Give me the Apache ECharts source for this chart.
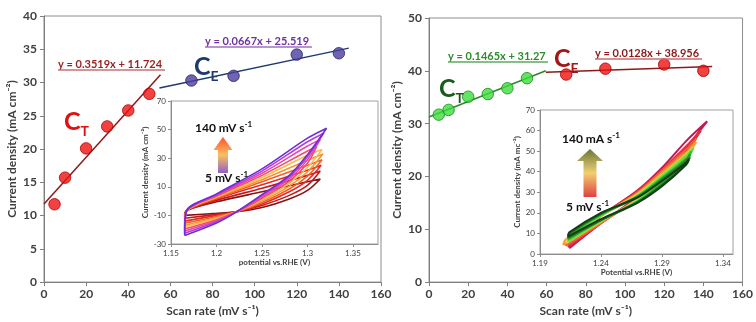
<!DOCTYPE html>
<html>
<head>
<meta charset="utf-8">
<script src="https://cdn.jsdelivr.net/npm/echarts@6/dist/echarts.min.js"></script>
<style>
  html, body { margin: 0; padding: 0; background: #fff; }
  #chart { width: 756px; height: 322px; }
</style>
</head>
<body>
<div id="chart"></div>
<script>
// --- main panels: scan rate vs current density ---
var ctRates = [5, 10, 20, 30, 40, 50];
var ceRates = [70, 90, 120, 140];
var leftCt = [11.7, 15.7, 20.1, 23.4, 25.8, 28.3];
var leftCe = [30.3, 31.0, 34.2, 34.4];
var rightCt = [31.7, 32.6, 35.1, 35.6, 36.7, 38.6];
var rightCe = [39.3, 40.4, 41.2, 40.0];

// trendlines: [slope, intercept], drawn over [xFrom, xTo]
var leftCtFit = [0.3519, 11.724], leftCtSpan = [0, 55.3];
var leftCeFit = [0.0667, 25.519], leftCeSpan = [54.8, 144.7];
var rightCtFit = [0.1465, 31.27], rightCtSpan = [0, 59.6];
var rightCeFit = [0.0128, 38.956], rightCeSpan = [59.6, 144.5];

// --- insets: CV loops, one per scan rate (5 ... 140 mV/s) ---
var leftLoopColors = ['#8b1212', '#c41a1a', '#e62a26', '#f0602c', '#f5962e', '#f8bc4c', '#f04c6c', '#e84aa8', '#b63cdc', '#6e2ed4'];
var leftLoops = [
  [[1.165,-10],[1.2,-8.6],[1.222,-7.5],[1.25,-4.5],[1.28,1.5],[1.3,7.5],[1.314,15.5],[1.3,13.5],[1.25,6.5],[1.2,-0.5],[1.167,-6.5],[1.165,-10]],
  [[1.165,-12],[1.2,-9.3],[1.222,-7.5],[1.25,-3],[1.28,4],[1.3,11],[1.314,21],[1.3,18],[1.25,9],[1.2,0.5],[1.167,-6.8],[1.165,-12]],
  [[1.165,-14],[1.2,-10],[1.222,-7.5],[1.25,-2],[1.28,6.5],[1.3,14.5],[1.315,25],[1.3,21.5],[1.25,11.5],[1.2,1.5],[1.167,-7],[1.165,-14]],
  [[1.165,-15.5],[1.2,-10.8],[1.222,-7.5],[1.25,-1],[1.28,8.5],[1.3,17.5],[1.316,29],[1.3,25],[1.25,13.5],[1.2,2],[1.167,-7],[1.165,-15.5]],
  [[1.165,-17],[1.2,-11.5],[1.222,-7.5],[1.25,0],[1.28,10.5],[1.3,20.5],[1.317,33],[1.3,28.5],[1.25,15],[1.2,2.5],[1.167,-7],[1.165,-17]],
  [[1.165,-18],[1.2,-12.2],[1.222,-7.5],[1.25,1],[1.28,12.5],[1.3,23.5],[1.316,36],[1.3,32],[1.25,16.5],[1.2,3],[1.167,-7],[1.165,-18]],
  [[1.165,-19.5],[1.2,-13],[1.222,-7.5],[1.25,2],[1.28,14],[1.3,26.5],[1.31,38],[1.3,35],[1.25,18],[1.2,3.5],[1.167,-7],[1.165,-19.5]],
  [[1.165,-21],[1.2,-13.8],[1.222,-7.5],[1.25,3],[1.28,15.5],[1.3,29],[1.314,43],[1.3,38.5],[1.25,19.5],[1.2,4],[1.167,-7],[1.165,-21]],
  [[1.165,-22.5],[1.2,-14.5],[1.222,-7.5],[1.25,4],[1.28,17],[1.3,31],[1.318,47.5],[1.3,41.5],[1.25,21],[1.2,4.5],[1.167,-7],[1.165,-22.5]],
  [[1.165,-24],[1.2,-15.3],[1.222,-7.5],[1.25,4.5],[1.28,18],[1.3,32.5],[1.321,51],[1.3,44],[1.25,22.5],[1.2,5],[1.167,-6.8],[1.165,-24]]
];

var rightLoopColors = ['#c2185b', '#e2303e', '#f06040', '#f5a020', '#f2d060', '#66e040', '#34c034', '#1f9a2a', '#2a6a2a', '#143d14'];
var rightLoops = [
  [[1.214,2.8],[1.24,15],[1.27,28],[1.29,39.5],[1.31,52],[1.327,64.5],[1.31,55],[1.29,42],[1.27,31],[1.24,18.5],[1.216,5.5],[1.214,2.8]],
  [[1.213,3.5],[1.24,15],[1.27,27.5],[1.29,38.5],[1.31,50],[1.322,60],[1.31,52.5],[1.29,41],[1.27,30.5],[1.24,18.5],[1.215,6],[1.213,3.5]],
  [[1.211,4],[1.24,15],[1.27,27],[1.29,37.5],[1.31,49],[1.318,56],[1.31,51],[1.29,40.5],[1.27,30],[1.24,18.5],[1.213,6.5],[1.211,4]],
  [[1.209,4.4],[1.24,15.5],[1.27,26.5],[1.29,36.5],[1.31,47.5],[1.318,54.5],[1.31,49.5],[1.29,39.5],[1.27,29.5],[1.24,18.5],[1.211,7],[1.209,4.4]],
  [[1.212,5.5],[1.24,16],[1.27,26.5],[1.29,36],[1.31,46.5],[1.316,52],[1.31,48.5],[1.29,38.5],[1.27,29],[1.24,18.5],[1.213,7.5],[1.212,5.5]],
  [[1.213,6],[1.24,16],[1.27,26],[1.29,35.5],[1.31,46],[1.316,51.5],[1.31,48],[1.29,38],[1.27,28.5],[1.24,18.5],[1.214,8],[1.213,6]],
  [[1.213,7],[1.24,16.5],[1.27,25.5],[1.29,34.5],[1.31,45],[1.314,50],[1.31,46.5],[1.29,37],[1.27,28],[1.24,19],[1.214,9],[1.213,7]],
  [[1.213,7.5],[1.24,16.5],[1.27,25.5],[1.29,34],[1.31,44.5],[1.313,48.5],[1.31,46],[1.29,36.5],[1.27,28],[1.24,19.5],[1.214,9.5],[1.213,7.5]],
  [[1.213,8],[1.24,16.5],[1.27,25],[1.29,33.5],[1.31,44],[1.313,47],[1.31,45],[1.29,36],[1.27,27.5],[1.24,19.5],[1.214,10],[1.213,8]],
  [[1.213,8.5],[1.24,17],[1.27,25],[1.29,33],[1.31,43.5],[1.312,46],[1.31,44.5],[1.29,35.5],[1.27,27.5],[1.24,20],[1.214,10.5],[1.213,8.5]]
];

var font = 'Lato, "Open Sans", sans-serif';
var tickColor = '#404040';

function pairs(xs, ys) {
  return xs.map(function(x, i) { return [x, ys[i]]; });
}
function fitLine(fit, span) {
  return span.map(function(x) { return [x, fit[0] * x + fit[1]]; });
}

function mainX(idx) {
  return {
    gridIndex: idx, type: 'value', min: 0, max: 160, interval: 20,
    name: 'Scan rate (mV s\u207B\u00B9)', nameLocation: 'middle', nameGap: 22,
    nameTextStyle: { color: '#404040', fontSize: 12, fontWeight: 'bold', fontFamily: font },
    axisLine: { onZero: false, lineStyle: { color: '#7f7f7f', width: 1 } },
    axisTick: { show: true, inside: false, length: 4, lineStyle: { color: '#7f7f7f' } },
    axisLabel: { color: tickColor, fontSize: 12, fontWeight: 'bold', fontFamily: font, margin: 6 },
    splitLine: { show: false }
  };
}
function mainY(idx, max, interval) {
  return {
    gridIndex: idx, type: 'value', min: 0, max: max, interval: interval,
    name: 'Current density (mA cm\u207B\u00B2)', nameLocation: 'middle', nameGap: 26,
    nameTextStyle: { color: '#404040', fontSize: 12, fontWeight: 'bold', fontFamily: font },
    axisLine: { show: true, onZero: false, lineStyle: { color: '#7f7f7f', width: 1 } },
    axisTick: { show: true, length: 4, lineStyle: { color: '#7f7f7f' } },
    axisLabel: { color: tickColor, fontSize: 12, fontWeight: 'bold', fontFamily: font, margin: 7 },
    splitLine: { show: false }
  };
}
function insetX(idx, min, max, name, gap) {
  return {
    gridIndex: idx, type: 'value', min: min, max: max, interval: 0.05,
    name: name, nameLocation: 'middle', nameGap: gap,
    nameTextStyle: { color: '#404040', fontSize: 8, fontWeight: 'bold', fontFamily: font },
    axisLine: { onZero: false, lineStyle: { color: '#8c8c8c' } },
    axisTick: { show: true, length: 3, lineStyle: { color: '#8c8c8c' } },
    axisLabel: {
      color: tickColor, fontSize: 8, fontFamily: font, margin: 5, showMaxLabel: false,
      formatter: function(v) { return idx === 2 ? String(+v.toFixed(2)) : v.toFixed(2); }
    },
    splitLine: { show: false }
  };
}
function insetY(idx, min, max, interval, name, gap) {
  return {
    gridIndex: idx, type: 'value', min: min, max: max, interval: interval,
    name: name, nameLocation: 'middle', nameGap: gap,
    nameTextStyle: { color: '#404040', fontSize: 8, fontWeight: 'bold', fontFamily: font },
    axisLine: { show: true, onZero: false, lineStyle: { color: '#8c8c8c' } },
    axisTick: { show: true, length: 3, lineStyle: { color: '#8c8c8c' } },
    axisLabel: { color: tickColor, fontSize: 8, fontFamily: font, margin: 5 },
    splitLine: { show: false }
  };
}

function scatter(idx, data, fill, border) {
  return {
    type: 'scatter', xAxisIndex: idx, yAxisIndex: idx, data: data,
    symbolSize: 11.5, z: 5,
    itemStyle: { color: fill, borderColor: border, borderWidth: 1 }
  };
}
function line(idx, data, color, width, smooth) {
  return {
    type: 'line', xAxisIndex: idx, yAxisIndex: idx, data: data,
    showSymbol: false, smooth: smooth || false, z: 3,
    lineStyle: { color: color, width: width }
  };
}

var series = [
  line(0, fitLine(leftCtFit, leftCtSpan), '#8b1a1a', 1.5),
  line(0, fitLine(leftCeFit, leftCeSpan), '#1f3a6e', 1.5),
  scatter(0, pairs(ctRates, leftCt), '#ee1111', '#b00000'),
  scatter(0, pairs(ceRates, leftCe), '#4b3d9e', '#2a2366'),
  line(1, fitLine(rightCtFit, rightCtSpan), '#2a8a2a', 1.5),
  line(1, fitLine(rightCeFit, rightCeSpan), '#8b1a1a', 1.5),
  scatter(1, pairs(ctRates, rightCt), '#3ddc3d', '#1a8a1a'),
  scatter(1, pairs(ceRates, rightCe), '#ee1111', '#a00000')
];
leftLoops.forEach(function(loop, i) {
  series.push(line(2, loop, leftLoopColors[i], 1.6, 0.3));
});
rightLoops.forEach(function(loop, i) {
  series.push(line(3, loop, rightLoopColors[i], 2, 0.3));
});

// text overlays
function eqText(x, y, text, color, lineColor, w) {
  return [
    { type: 'text', z: 100, style: { x: x, y: y, text: text, fill: color, font: 'bold 11px ' + font, textVerticalAlign: 'middle' } },
    { type: 'line', z: 100, shape: { x1: x, y1: y + 6, x2: x + w, y2: y + 6 }, style: { stroke: lineColor, lineWidth: 1.5 } }
  ];
}
function capText(x, y, sub, color) {
  return {
    type: 'text', z: 100,
    style: {
      x: x, y: y, text: '{c|C}{s|' + sub + '}', fill: color,
      rich: {
        c: { fontSize: 25, fontFamily: font, fontWeight: 'bold', fill: color, verticalAlign: 'bottom' },
        s: { fontSize: 14, fontFamily: font, fontWeight: 'bold', fill: color, verticalAlign: 'bottom', padding: [0, 0, -4, 0] }
      }
    }
  };
}
function labelText(x, y, main, sup) {
  return {
    type: 'text', z: 100,
    style: {
      x: x, y: y, text: '{m|' + main + '}{p|' + sup + '}', textVerticalAlign: 'middle',
      rich: {
        m: { fontSize: 12, fontWeight: 'bold', fontFamily: font, fill: '#111' },
        p: { fontSize: 8, fontWeight: 'bold', fontFamily: font, fill: '#111', padding: [0, 0, 7, 0] }
      }
    }
  };
}
function arrow(cx, top, headBase, bottom, halfHead, halfShaft, stops) {
  return {
    type: 'polygon', z: 100,
    shape: { points: [[cx, top], [cx + halfHead, headBase], [cx + halfShaft, headBase], [cx + halfShaft, bottom],
      [cx - halfShaft, bottom], [cx - halfShaft, headBase], [cx - halfHead, headBase]] },
    style: { fill: new echarts.graphic.LinearGradient(0, 0, 0, 1, stops) }
  };
}

var graphic = []
  .concat(eqText(58, 64, 'y = 0.3519x + 11.724', '#9b2222', '#c87070', 107))
  .concat(eqText(205, 41, 'y = 0.0667x + 25.519', '#7030a0', '#a070c0', 107))
  .concat(eqText(448, 56, 'y = 0.1465x + 31.27', '#2e8b2e', '#60a860', 100))
  .concat(eqText(595, 53, 'y = 0.0128x + 38.956', '#8b1a1a', '#c07070', 107))
  .concat([
    capText(64, 109, 'T', '#e01010'),
    capText(194, 54, 'E', '#1f3a6e'),
    capText(439, 76, 'T', '#1a5a1a'),
    capText(554, 46, 'E', '#a01818'),
    labelText(195, 128, '140 mV s', '-1'),
    labelText(205, 178, '5 mV s', '-1'),
    labelText(562, 139, '140 mA s', '-1'),
    labelText(566, 207, '5 mV s', '-1'),
    arrow(223, 137, 150, 173, 9.5, 5, [
      { offset: 0, color: '#ff5030' }, { offset: 0.5, color: '#f8c060' }, { offset: 1, color: '#9060c8' }
    ]),
    arrow(590, 149, 161, 197, 13, 6.5, [
      { offset: 0, color: '#66773a' }, { offset: 0.5, color: '#f0d070' }, { offset: 1, color: '#e04040' }
    ])
  ]);

var chart = echarts.init(document.getElementById('chart'), null, { renderer: 'canvas' });
chart.setOption({
  animation: false,
  backgroundColor: '#fff',
  grid: [
    { left: 44, top: 16, width: 337, height: 267, show: true, borderColor: '#8c8c8c', borderWidth: 1 },
    { left: 429, top: 18, width: 317, height: 265, show: true, borderColor: '#8c8c8c', borderWidth: 1 },
    { left: 171, top: 101, width: 207, height: 143, show: true, backgroundColor: '#fff', borderColor: '#a0a0a0', borderWidth: 1 },
    { left: 540, top: 110, width: 193, height: 144, show: true, backgroundColor: '#fff', borderColor: '#a0a0a0', borderWidth: 1 }
  ],
  xAxis: [
    mainX(0),
    mainX(1),
    insetX(2, 1.15, 1.3775, 'potential vs.RHE (V)', 14),
    insetX(3, 1.19, 1.3482, 'Potential vs.RHE (V)', 14)
  ],
  yAxis: [
    mainY(0, 40, 5),
    mainY(1, 50, 10),
    insetY(2, -30, 70, 20, 'Current density (mA cm\u207B\u00B2)', 18),
    insetY(3, 0, 70, 10, 'Current density (mA mc\u207B\u00B2)', 16)
  ],
  series: series,
  graphic: graphic
});
</script>
</body>
</html>
